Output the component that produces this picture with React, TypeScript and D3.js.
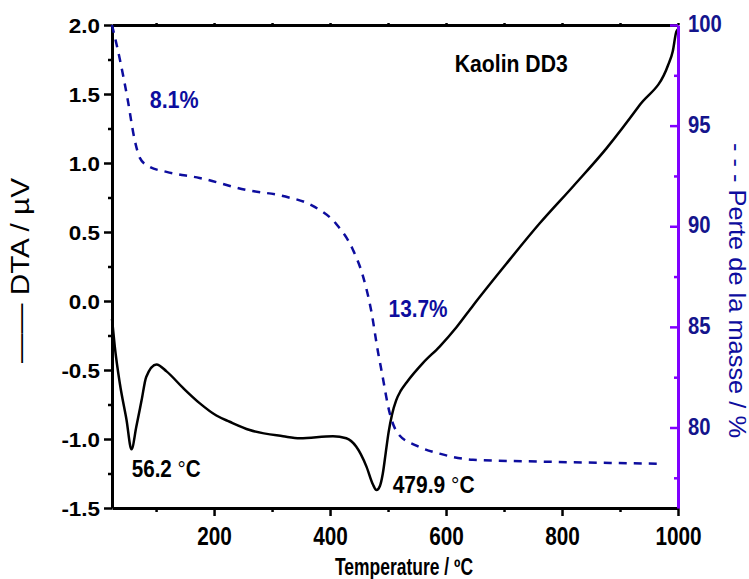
import React, { useEffect, useRef } from "react";
import * as d3 from "d3";

// DTA curve (solid black)
const dtaTemp = [24, 28.8, 37.6, 49, 57.6, 66, 75, 83, 100.7, 118, 146.5, 175, 204, 227, 261.5, 319, 348, 405, 428, 445, 462.8, 474, 480, 486, 491, 496, 501, 507, 514, 522, 532, 560, 589, 618, 647, 704, 761.6, 819, 876.6, 934, 983, 991, 997, 1000];
const dtaValue = [-0.13, -0.33, -0.6, -0.86, -1.075, -0.91, -0.72, -0.55, -0.46, -0.51, -0.63, -0.74, -0.83, -0.875, -0.935, -0.98, -0.995, -0.98, -0.995, -1.055, -1.2, -1.33, -1.37, -1.34, -1.25, -1.1, -0.95, -0.82, -0.72, -0.65, -0.59, -0.45, -0.33, -0.19, -0.03, 0.27, 0.563, 0.83, 1.106, 1.42, 1.71, 1.81, 1.95, 1.97];

// mass loss curve (dashed blue)
const tgaTemp = [24, 37.5, 51, 63, 72, 86, 118, 175, 256, 319, 371, 411, 440, 457, 471, 483, 488.6, 503, 517, 549, 589, 646.5, 773, 971];
const tgaMass = [100, 98.3, 96.3, 94.3, 93.4, 93.0, 92.7, 92.4, 91.8, 91.5, 91.0, 90.1, 88.8, 87.5, 85.8, 83.7, 82.85, 80.7, 79.7, 79.1, 78.7, 78.4, 78.3, 78.2];

const tempTicks = [200, 400, 600, 800, 1000];
const tempMinor = [100, 300, 500, 700, 900];
const dtaTicks = [-1.5, -1.0, -0.5, 0.0, 0.5, 1.0, 1.5, 2.0];
const dtaMinor = [-1.25, -0.75, -0.25, 0.25, 0.75, 1.25, 1.75];
const massTicks = [80, 85, 90, 95, 100];
const massMinor = [77.5, 82.5, 87.5, 92.5, 97.5];

// annotations: text, temperature, value, which axis
const notes = [
  { text: "Kaolin DD3", t: 615, v: 1.66, axis: "dta", color: "black", len: 113 },
  { text: "8.1%", t: 89, v: 95.9, axis: "mass", color: "#0d0d9e", len: 49 },
  { text: "13.7%", t: 501, v: 85.5, axis: "mass", color: "#0d0d9e", len: 59 },
  { text: "56.2 ", deg: true, t: 58, v: -1.275, axis: "dta", color: "black", len: 69 },
  { text: "479.9 ", deg: true, t: 508, v: -1.39, axis: "dta", color: "black", len: 82 },
];

const FONT = "'Liberation Sans', Arial, sans-serif";
const BLUE = "#0d0d9e";
const PURPLE = "#8000ff";

export default function App() {
  const svgRef = useRef(null);

  useEffect(() => {
    draw();
  }, []);

  const draw = () => {
    const width = 749;
    const height = 579;
    const marginTop = 25;
    const marginRight = 71;
    const marginBottom = 71;
    const marginLeft = 112;

    const svg = d3.select(svgRef.current);
    svg.selectAll("*").remove();
    svg
      .attr("width", width)
      .attr("height", height)
      .attr("viewBox", [0, 0, width, height])
      .style("font-family", FONT);

    svg.append("rect").attr("width", width).attr("height", height).attr("fill", "white");

    const x = d3.scaleLinear().domain([24, 1000]).range([marginLeft, width - marginRight]);
    const y = d3.scaleLinear().domain([-1.5, 2]).range([height - marginBottom, marginTop]);
    const yR = d3.scaleLinear().domain([76, 100]).range([height - marginBottom, marginTop]);

    const styleAxis = (g, color) => {
      g.select(".domain").attr("stroke", color).attr("stroke-width", 3);
      g.selectAll(".tick line").attr("stroke", color).attr("stroke-width", 2.5);
    };

    // top border with small ticks
    svg
      .append("g")
      .attr("transform", `translate(0,${marginTop})`)
      .call(d3.axisTop(x).tickValues([...tempTicks, ...tempMinor]).tickSize(2).tickSizeOuter(0).tickFormat(() => ""))
      .call((g) => styleAxis(g, "black"));

    // bottom axis
    const sxB = 0.83;
    svg
      .append("g")
      .attr("transform", `translate(0,${height - marginBottom})`)
      .call(d3.axisBottom(x).tickValues(tempTicks).tickSize(8).tickSizeOuter(0).tickFormat((d) => String(d)))
      .call((g) => {
        styleAxis(g, "black");
        g.selectAll(".tick text")
          .attr("y", 37)
          .attr("dy", 0)
          .attr("fill", "black")
          .attr("font-size", 25)
          .attr("font-weight", "bold")
          .attr("font-family", FONT)
          .attr("transform", `scale(${sxB},1)`);
      });
    svg
      .append("g")
      .attr("transform", `translate(0,${height - marginBottom})`)
      .call(d3.axisBottom(x).tickValues(tempMinor).tickSize(4).tickFormat(() => ""))
      .call((g) => {
        g.select(".domain").remove();
        g.selectAll(".tick line").attr("stroke", "black").attr("stroke-width", 2.5);
      });

    // left axis
    const sxL = 1.15;
    svg
      .append("g")
      .attr("transform", `translate(${marginLeft},0)`)
      .call(d3.axisLeft(y).tickValues(dtaTicks).tickSize(8).tickPadding(4).tickSizeOuter(0).tickFormat((d) => d.toFixed(1)))
      .call((g) => {
        styleAxis(g, "black");
        g.selectAll(".tick text")
          .attr("x", -12 / sxL)
          .attr("dy", "0.38em")
          .attr("fill", "black")
          .attr("font-size", 19.5)
          .attr("font-weight", "bold")
          .attr("font-family", FONT)
          .attr("transform", `scale(${sxL},1)`);
      });
    svg
      .append("g")
      .attr("transform", `translate(${marginLeft},0)`)
      .call(d3.axisLeft(y).tickValues(dtaMinor).tickSize(4).tickFormat(() => ""))
      .call((g) => {
        g.select(".domain").remove();
        g.selectAll(".tick line").attr("stroke", "black").attr("stroke-width", 2.5);
      });

    // curves
    const dtaLine = d3
      .line()
      .x((d) => x(d[0]))
      .y((d) => y(d[1]))
      .curve(d3.curveMonotoneX);
    svg
      .append("path")
      .datum(dtaTemp.map((t, i) => [t, dtaValue[i]]))
      .attr("fill", "none")
      .attr("stroke", "black")
      .attr("stroke-width", 2.5)
      .attr("d", dtaLine);

    const tgaLine = d3
      .line()
      .x((d) => x(d[0]))
      .y((d) => yR(d[1]))
      .curve(d3.curveMonotoneX);
    svg
      .append("path")
      .datum(tgaTemp.map((t, i) => [t, tgaMass[i]]))
      .attr("fill", "none")
      .attr("stroke", BLUE)
      .attr("stroke-width", 2.5)
      .attr("stroke-dasharray", "8,7")
      .attr("d", tgaLine);

    // right axis (purple line, blue labels)
    const sxR = 0.88;
    svg
      .append("g")
      .attr("transform", `translate(${width - marginRight},0)`)
      .call(d3.axisRight(yR).tickValues(massTicks).tickSize(-8).tickPadding(10).tickSizeOuter(0).tickFormat((d) => String(d)))
      .call((g) => {
        styleAxis(g, PURPLE);
        g.selectAll(".tick text")
          .attr("x", 10 / sxR)
          .attr("dy", "0.29em")
          .attr("fill", "#14148c")
          .attr("font-size", 23)
          .attr("font-weight", "bold")
          .attr("font-family", FONT)
          .attr("transform", `scale(${sxR},1)`);
      });
    svg
      .append("g")
      .attr("transform", `translate(${width - marginRight},0)`)
      .call(d3.axisRight(yR).tickValues(massMinor).tickSize(-4).tickFormat(() => ""))
      .call((g) => {
        g.select(".domain").remove();
        g.selectAll(".tick line").attr("stroke", PURPLE).attr("stroke-width", 2.5);
      });

    // axis titles
    svg
      .append("text")
      .attr("x", 404)
      .attr("y", 575)
      .attr("text-anchor", "middle")
      .attr("font-size", 23)
      .attr("font-weight", "bold")
      .attr("textLength", 138)
      .attr("lengthAdjust", "spacingAndGlyphs")
      .text("Temperature / ºC");

    svg
      .append("text")
      .attr("transform", `translate(29,${(marginTop + height - marginBottom) / 2 + 4}) rotate(-90)`)
      .attr("text-anchor", "middle")
      .attr("font-size", 25)
      .attr("textLength", 185)
      .attr("lengthAdjust", "spacingAndGlyphs")
      .text("—— DTA / µV");

    svg
      .append("text")
      .attr("transform", `translate(729,290.5) rotate(90)`)
      .attr("text-anchor", "middle")
      .attr("font-size", 24)
      .attr("fill", BLUE)
      .attr("textLength", 295)
      .attr("lengthAdjust", "spacingAndGlyphs")
      .text("- - - Perte de la masse / %");

    // annotations
    notes.forEach((n) => {
      const t = svg
        .append("text")
        .attr("x", x(n.t))
        .attr("y", n.axis === "dta" ? y(n.v) : yR(n.v))
        .attr("fill", n.color)
        .attr("font-size", 23)
        .attr("font-weight", "bold")
        .attr("textLength", n.len)
        .attr("lengthAdjust", "spacingAndGlyphs");
      t.append("tspan").text(n.text);
      if (n.deg) {
        t.append("tspan").attr("font-weight", "normal").text("°");
        t.append("tspan").text("C");
      }
    });
  };

  return <svg ref={svgRef} style={{ position: "absolute", left: 0, top: 0 }}></svg>;
}
